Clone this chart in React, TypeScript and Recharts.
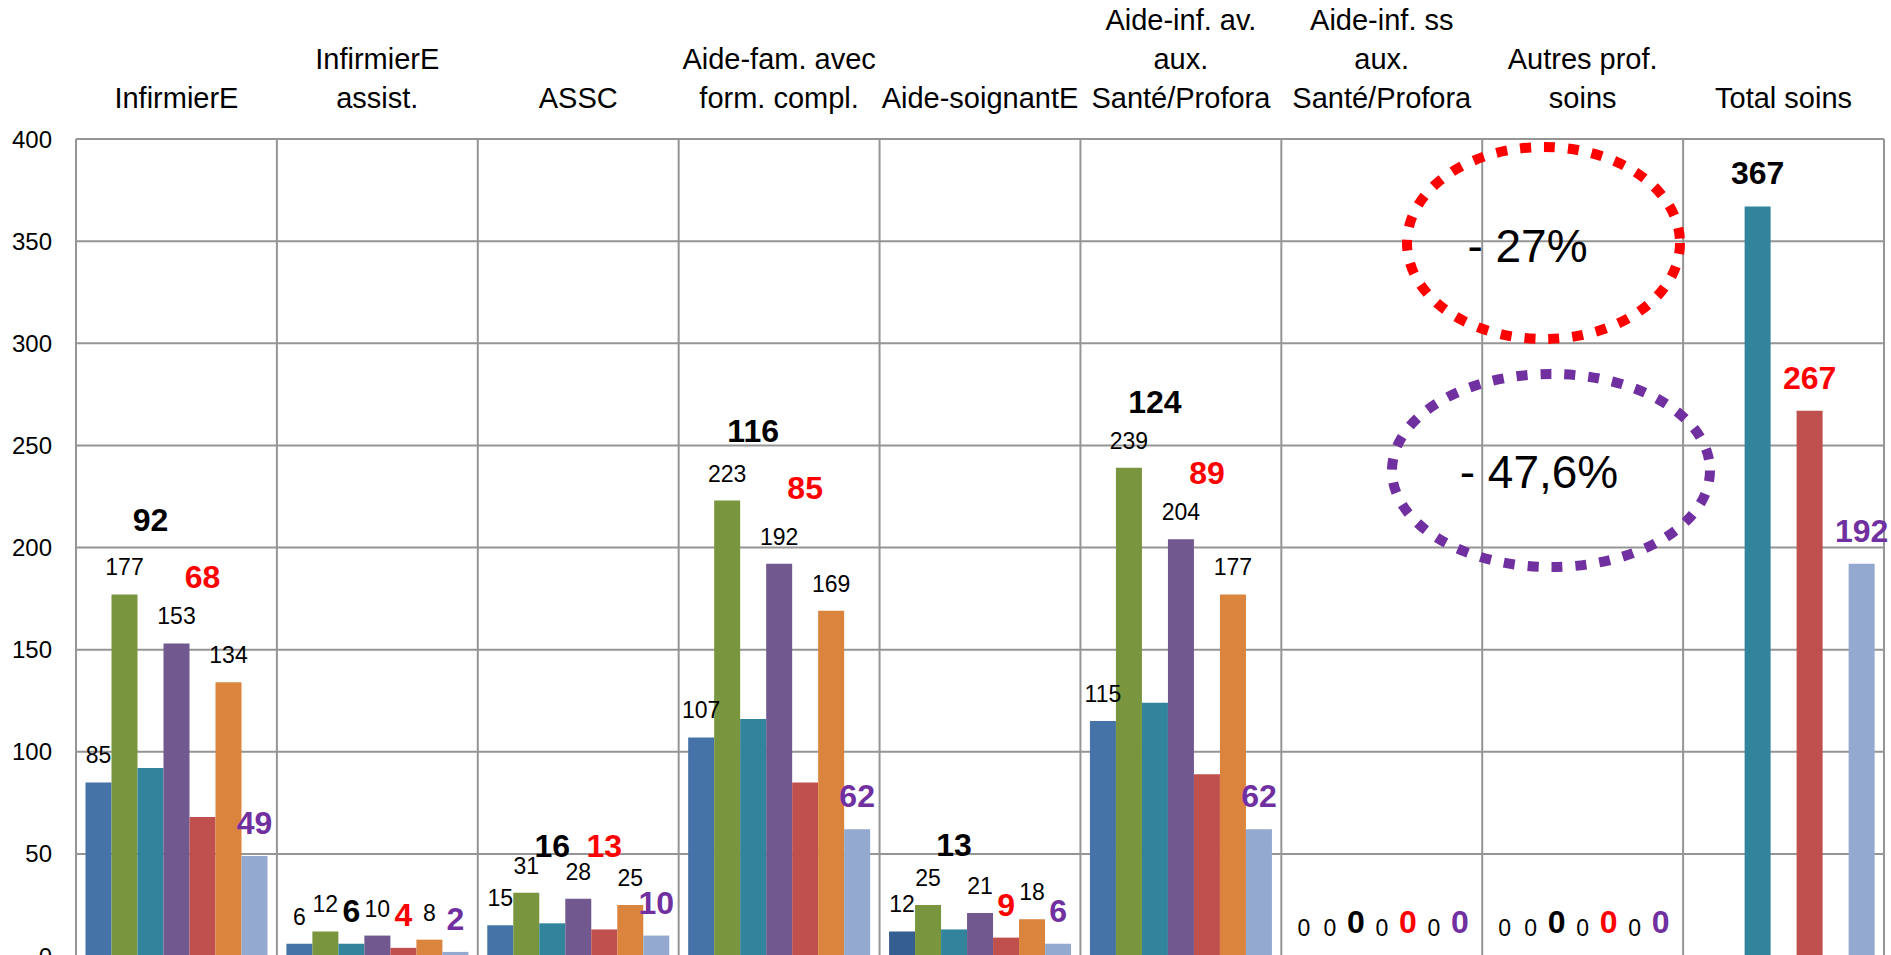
import React from 'react';
import { BarChart, Bar, XAxis, YAxis, CartesianGrid, LabelList, Cell } from 'recharts';

const categories = [
  'InfirmierE',
  'InfirmierE\nassist.',
  'ASSC',
  'Aide-fam. avec\nform. compl.',
  'Aide-soignantE',
  'Aide-inf. av.\naux.\nSanté/Profora',
  'Aide-inf. ss\naux.\nSanté/Profora',
  'Autres prof.\nsoins',
  'Total soins',
];

const blueVals = [85, 6, 15, 107, 12, 115, 0, 0, null];
const greenVals = [177, 12, 31, 223, 25, 239, 0, 0, null];
const tealVals = [92, 6, 16, 116, 13, 124, 0, 0, 367];
const purpleVals = [153, 10, 28, 192, 21, 204, 0, 0, null];
const redVals = [68, 4, 13, 85, 9, 89, 0, 0, 267];
const orangeVals = [134, 8, 25, 169, 18, 177, 0, 0, null];
const lightVals = [49, 2, 10, 62, 6, 62, 0, 0, 192];

const yTicks = [0, 50, 100, 150, 200, 250, 300, 350, 400];

// hand-placed bold labels (chart units of the label centre), null = just above the bar
const tealLabelAt = [213.5, null, 54.3, 257.5, 54.6, 271.4, null, null, null];
const redLabelAt = [185.7, null, 54.3, 229.5, null, 236.6, null, null, null];

const data = categories.map((name, i) => ({
  name,
  blue: blueVals[i],
  green: greenVals[i],
  teal: tealVals[i],
  purple: purpleVals[i],
  red: redVals[i],
  orange: orangeVals[i],
  light: lightVals[i],
}));

const FONT = "'Liberation Sans', Arial, sans-serif";
const GRID = '#959595';

function plainLabel(props: any) {
  const { x, y, width, value } = props;
  if (value == null) return null;
  return (
    <text x={Number(x) + Number(width) / 2} y={Number(y) - 19} textAnchor="middle"
      fontSize={23} fill="#000" fontFamily={FONT}>{value}</text>
  );
}

function boldLabel(color: string, labelAt?: (number | null)[]) {
  return (props: any) => {
    const { x, y, width, height, value, index } = props;
    if (value == null) return null;
    let base = Number(y) - 22;
    const at = labelAt ? labelAt[index] : null;
    if (at != null && value > 0) {
      const bottom = Number(y) + Number(height);
      base = bottom - at * (Number(height) / value) + 11.5;
    }
    return (
      <text x={Number(x) + Number(width) / 2} y={base} textAnchor="middle"
        fontSize={32} fontWeight="bold" fill={color} fontFamily={FONT}>{value}</text>
    );
  };
}

function CategoryTick({ x, y, payload }: any) {
  const lines = String(payload.value).split('\n');
  return (
    <g>
      {lines.map((l, i) => (
        <text key={i} x={x} y={y - (lines.length - 1 - i) * 39} textAnchor="middle"
          fontSize={29} fill="#000" fontFamily={FONT}>{l}</text>
      ))}
    </g>
  );
}

export default function App() {
  const n = categories.length;
  return (
    <div style={{ position: 'absolute', left: 0, top: 0, width: 1891, height: 955, overflow: 'hidden', background: '#fff', fontFamily: FONT }}>
      <BarChart width={1891} height={1000} data={data}
        margin={{ top: 0, right: 7, bottom: 44, left: 0 }}
        barGap={0} barCategoryGap={9.5}>
        <CartesianGrid stroke={GRID} strokeWidth={2}
          verticalCoordinatesGenerator={({ offset }: any) =>
            Array.from({ length: n + 1 }, (_, i) => offset.left + (offset.width * i) / n)} />
        <XAxis dataKey="name" orientation="top" height={139} interval={0}
          axisLine={false} tickLine={false} tickSize={0} tickMargin={31} tick={<CategoryTick />} />
        <YAxis width={76} domain={[0, 400]} ticks={yTicks} axisLine={false} tickLine={false}
          tickSize={0} tickMargin={24} interval={0}
          tick={{ fontSize: 24, fill: '#000', fontFamily: FONT }} />
        <Bar dataKey="blue" fill="#4573A7" minPointSize={1} isAnimationActive={false}>
          {blueVals.map((_, i) => (
            <Cell key={i} fill={i === 4 ? '#365F91' : '#4573A7'} />
          ))}
          <LabelList dataKey="blue" content={plainLabel} />
        </Bar>
        <Bar dataKey="green" fill="#79963E" minPointSize={1} isAnimationActive={false}>
          <LabelList dataKey="green" content={plainLabel} />
        </Bar>
        <Bar dataKey="teal" fill="#31849B" minPointSize={1} isAnimationActive={false}>
          <LabelList dataKey="teal" content={boldLabel('#000000', tealLabelAt)} />
        </Bar>
        <Bar dataKey="purple" fill="#71598F" minPointSize={1} isAnimationActive={false}>
          <LabelList dataKey="purple" content={plainLabel} />
        </Bar>
        <Bar dataKey="red" fill="#C0504D" minPointSize={1} isAnimationActive={false}>
          <LabelList dataKey="red" content={boldLabel('#FF0000', redLabelAt)} />
        </Bar>
        <Bar dataKey="orange" fill="#DB843D" minPointSize={1} isAnimationActive={false}>
          <LabelList dataKey="orange" content={plainLabel} />
        </Bar>
        <Bar dataKey="light" fill="#93A9CF" minPointSize={1} isAnimationActive={false}>
          <LabelList dataKey="light" content={boldLabel('#7030A0')} />
        </Bar>
      </BarChart>
      <svg width={1891} height={955} style={{ position: 'absolute', left: 0, top: 0, pointerEvents: 'none' }}>
        <ellipse cx={1543.5} cy={243} rx={136.5} ry={96} fill="none" stroke="#FF0000"
          strokeWidth={10} strokeDasharray="11 13" />
        <text x={1527.5} y={262} textAnchor="middle" fontSize={46} fill="#000" fontFamily={FONT}>- 27%</text>
        <ellipse cx={1551} cy={470.5} rx={159} ry={96.5} fill="none" stroke="#7030A0"
          strokeWidth={10} strokeDasharray="11 13" />
        <text x={1539} y={488} textAnchor="middle" fontSize={46} fill="#000" fontFamily={FONT}>- 47,6%</text>
      </svg>
    </div>
  );
}
